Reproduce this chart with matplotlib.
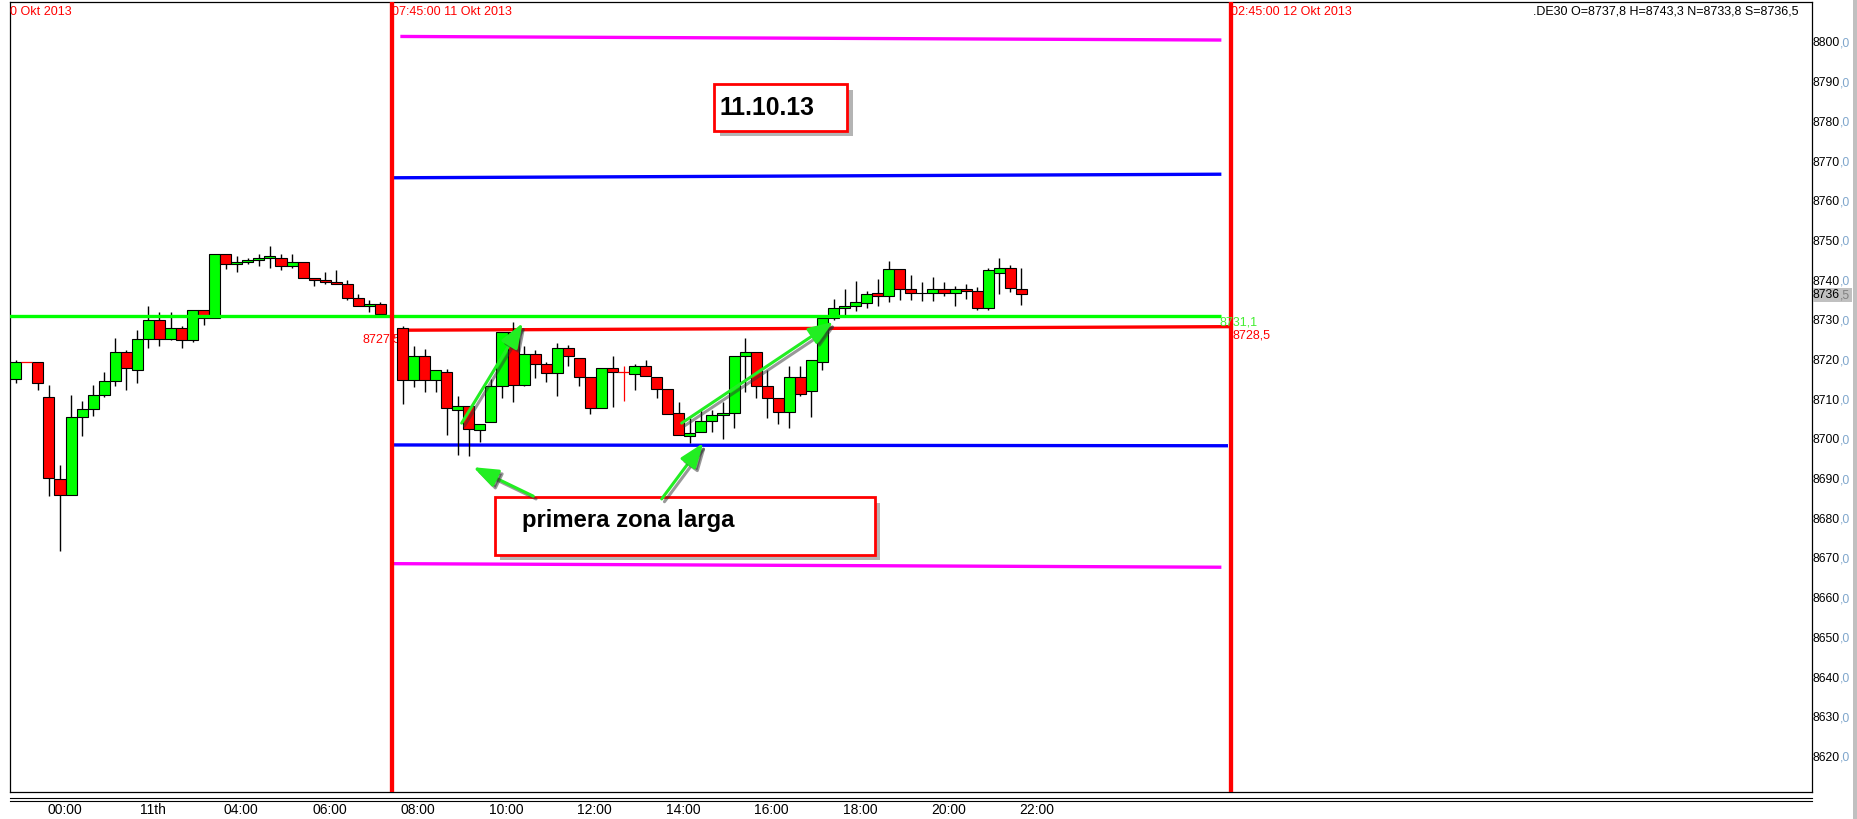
import numpy as np
import matplotlib
matplotlib.use("Agg")
import matplotlib.pyplot as plt
from matplotlib.patches import Rectangle, FancyArrowPatch
from matplotlib.lines import Line2D
import matplotlib.patheffects as pe

plt.rcParams["font.family"] = ["Liberation Sans", "DejaVu Sans"]

# ---------------------------------------------------------
# Data: 15 minute candles, slot = quarter hours since 00:00 of 11 Okt
# ---------------------------------------------------------
slots = list(range(-4, 30)) + list(range(31, 88))

opens = [
    8715.1, 8719.4, 8719.4, 8710.6, 8689.9, 8685.9, 8705.6, 8707.6, 8711.1, 8714.6,
    8721.9, 8717.4, 8725.4, 8730.0, 8725.4, 8728.0, 8725.0, 8732.5, 8730.5, 8746.6,
    8744.1, 8744.6, 8745.1, 8745.6, 8745.6, 8743.6, 8744.6, 8740.6, 8740.1, 8739.6,
    8739.1, 8735.5, 8733.5, 8734.0,
    8728.0, 8714.9, 8720.9, 8714.9, 8716.9, 8707.3, 8708.3, 8702.3, 8704.3, 8713.4,
    8727.0, 8713.6, 8721.4, 8718.9, 8716.7, 8722.9, 8720.4, 8715.6, 8707.8, 8717.9,
    8717.1, 8716.5, 8718.5, 8715.6, 8712.7, 8706.7, 8700.8, 8701.8, 8704.6, 8706.1,
    8706.6, 8720.9, 8721.9, 8713.4, 8710.4, 8706.9, 8715.6, 8712.2, 8719.4, 8730.5,
    8733.0, 8733.5, 8734.3, 8736.8, 8736.0, 8742.8, 8737.8, 8736.8, 8737.0, 8737.8,
    8737.0, 8737.8, 8737.3, 8733.0, 8741.9, 8743.1, 8737.8,
]
highs = [
    8720.0, 8719.4, 8719.4, 8713.7, 8693.6, 8711.2, 8709.6, 8713.7, 8716.9, 8725.5,
    8722.5, 8727.5, 8733.5, 8732.0, 8732.0, 8728.5, 8732.5, 8732.5, 8746.6, 8746.6,
    8746.1, 8745.6, 8746.6, 8748.6, 8746.6, 8746.6, 8744.6, 8740.6, 8742.1, 8742.6,
    8740.1, 8736.5, 8735.0, 8734.5,
    8728.5, 8723.6, 8722.8, 8717.4, 8717.8, 8710.9, 8708.3, 8704.0, 8715.2, 8727.0,
    8729.6, 8723.6, 8722.4, 8719.4, 8724.4, 8723.9, 8720.4, 8715.6, 8717.9, 8720.9,
    8718.4, 8719.0, 8719.9, 8715.6, 8712.7, 8709.4, 8705.3, 8707.3, 8707.3, 8709.4,
    8720.9, 8725.5, 8721.9, 8717.4, 8710.4, 8718.4, 8718.4, 8719.9, 8731.0, 8735.4,
    8737.9, 8739.9, 8737.4, 8740.4, 8744.9, 8742.8, 8741.4, 8739.6, 8740.8, 8739.6,
    8738.6, 8739.1, 8738.3, 8743.1, 8745.6, 8743.9, 8743.3,
]
lows = [
    8714.1, 8719.4, 8712.5, 8685.8, 8672.0, 8685.9, 8700.9, 8706.0, 8710.6, 8713.5,
    8712.5, 8714.1, 8723.0, 8723.5, 8725.0, 8723.0, 8724.5, 8728.9, 8730.5, 8742.9,
    8742.1, 8744.1, 8743.6, 8743.3, 8742.6, 8743.1, 8740.6, 8738.6, 8739.1, 8739.1,
    8735.0, 8733.5, 8732.0, 8731.5,
    8708.9, 8713.1, 8712.0, 8712.0, 8701.1, 8696.1, 8695.7, 8699.4, 8704.3, 8710.4,
    8709.4, 8713.4, 8715.4, 8714.4, 8710.9, 8718.4, 8713.4, 8706.3, 8707.8, 8708.1,
    8709.6, 8712.5, 8716.0, 8710.4, 8706.3, 8701.1, 8699.1, 8701.8, 8701.8, 8700.1,
    8702.9, 8711.9, 8710.4, 8705.3, 8703.9, 8702.9, 8710.9, 8705.6, 8717.6, 8730.0,
    8731.3, 8732.3, 8733.0, 8733.5, 8734.7, 8735.2, 8735.2, 8734.9, 8734.9, 8736.2,
    8733.5, 8735.3, 8732.7, 8732.7, 8736.5, 8737.1, 8733.8,
]
closes = [
    8719.4, 8719.4, 8714.1, 8690.4, 8685.9, 8705.6, 8707.6, 8711.1, 8714.6, 8721.9,
    8717.9, 8725.4, 8730.0, 8725.4, 8728.0, 8725.0, 8732.5, 8730.5, 8746.6, 8744.1,
    8744.6, 8745.1, 8745.6, 8746.1, 8743.6, 8744.6, 8740.6, 8740.1, 8739.6, 8739.1,
    8735.5, 8733.5, 8734.0, 8731.5,
    8714.9, 8720.9, 8714.9, 8717.4, 8707.8, 8708.3, 8702.6, 8704.0, 8713.4, 8727.0,
    8713.6, 8721.4, 8718.9, 8716.7, 8722.9, 8720.9, 8715.6, 8707.8, 8717.9, 8716.9,
    8717.1, 8718.5, 8716.0, 8712.7, 8706.3, 8701.1, 8701.6, 8704.6, 8706.1, 8706.6,
    8720.9, 8721.9, 8713.4, 8710.4, 8706.9, 8715.6, 8711.4, 8719.9, 8730.5, 8733.0,
    8733.5, 8734.5, 8736.5, 8736.0, 8742.8, 8737.8, 8736.8, 8737.0, 8737.8, 8737.0,
    8737.8, 8737.3, 8733.0, 8742.6, 8743.1, 8738.1, 8736.5,
]

# horizontal levels (start value, end value) and their slot spans
magenta_top = [8801.5, 8800.6]
magenta_bot = [8668.7, 8667.8]
blue_top = [8765.9, 8766.8]
blue_bot = [8698.6, 8698.4]
green_level = [8731.1, 8731.1]
red_level = [8727.5, 8728.4]
session_lines = [30.0, 106.0]

time_slots = [0, 8, 16, 24, 32, 40, 48, 56, 64, 72, 80, 88]
time_labels = ["00:00", "11th", "04:00", "06:00", "08:00", "10:00",
               "12:00", "14:00", "16:00", "18:00", "20:00", "22:00"]
price_ticks = list(range(8620, 8810, 10))

# ---------------------------------------------------------
# Figure / axes geometry (pixels)
# ---------------------------------------------------------
W, H = 1857, 820
AX_L, AX_R, AX_T, AX_B = 10, 1812, 3, 793

fig = plt.figure(figsize=(W / 100, H / 100), dpi=100)
fig.patch.set_facecolor("white")
ax = fig.add_axes([AX_L / W, 1 - AX_B / H, (AX_R - AX_L) / W, (AX_B - AX_T) / H])
ax.set_xlim(-4.525, 158.55)
ax.set_ylim(8611.18, 8810.18)
ax.set_xticks([])
ax.set_yticks([])
for sp in ax.spines.values():
    sp.set_linewidth(0.9)
    sp.set_color("black")


def ax_x(px):
    return (px - AX_L) / (AX_R - AX_L)


def ax_y(py):
    return (AX_B - py) / (AX_B - AX_T)


# ---------------------------------------------------------
# Levels
# ---------------------------------------------------------
def level(x0, x1, vals, color, z):
    ax.plot([x0, x1], vals, color=color, lw=2.4, solid_capstyle="butt", zorder=z)


level(30.8, 105.1, magenta_top, "#ff00ff", 2)
level(30.1, 105.1, magenta_bot, "#ff00ff", 2)
level(30.0, 105.1, blue_top, "#0000ff", 2)
level(30.1, 105.7, blue_bot, "#0000ff", 2)
level(30.5, 105.9, red_level, "#ff0000", 2)
level(-5.0, 105.1, green_level, "#00ff00", 6)

for sx in session_lines:
    ax.axvline(sx, color="#ff0000", lw=3.1, zorder=8)

# ---------------------------------------------------------
# Candles
# ---------------------------------------------------------
x = np.array(slots, dtype=float)
o = np.array(opens)
h = np.array(highs)
l = np.array(lows)
c = np.array(closes)
doji = o == c
body = ~doji

ax.vlines(x[body], l[body], h[body], color="black", lw=1.0, zorder=3)
cols = np.where(c > o, "#00ff00", "#ff0000")
ax.bar(x[body], (c - o)[body], bottom=o[body], width=1.0,
       color=cols[body], edgecolor="black", linewidth=0.8, zorder=4)
ax.vlines(x[doji], l[doji], h[doji], color="#ff0000", lw=0.9, zorder=4)
ax.hlines(o[doji], x[doji] - 0.5, x[doji] + 0.5, color="#ff0000", lw=0.9, zorder=4)

# level labels
ax.text(27.4, 8725.5, "8727,5", color="#ff0000", fontsize=9, va="center", zorder=3)
ax.text(104.97, 8729.6, "8731,1", color="#44ee33", fontsize=9, va="center", zorder=9)
ax.text(106.08, 8726.5, "8728,5", color="#ff0000", fontsize=9, va="center", zorder=9)

# ---------------------------------------------------------
# Header texts
# ---------------------------------------------------------
hy = ax_y(12)
ax.text(ax_x(10), hy, "0 Okt 2013", color="#ff0000", fontsize=9, va="center",
        transform=ax.transAxes)
ax.text(ax_x(392), hy, "07:45:00 11 Okt 2013", color="#ff0000", fontsize=9,
        va="center", transform=ax.transAxes, zorder=9)
ax.text(ax_x(1231), hy, "02:45:00 12 Okt 2013", color="#ff0000", fontsize=9,
        va="center", transform=ax.transAxes, zorder=9)
ax.text(ax_x(1799), hy, ".DE30 O=8737,8 H=8743,3 N=8733,8 S=8736,5", color="black",
        fontsize=9, va="center", ha="right", transform=ax.transAxes)

# ---------------------------------------------------------
# Annotation boxes and arrows
# ---------------------------------------------------------
shadow = [pe.SimplePatchShadow(offset=(4, -4), shadow_rgbFace="0.35", alpha=0.45), pe.Normal()]


def box(x0, y0, x1, y1):
    r = Rectangle((ax_x(x0), ax_y(y1)), ax_x(x1) - ax_x(x0), ax_y(y0) - ax_y(y1),
                  transform=ax.transAxes, facecolor="white", edgecolor="#ff0000",
                  lw=2.0, zorder=10, path_effects=shadow)
    ax.add_patch(r)


box(714.1, 85.4, 847.3, 131.9)
ax.text(ax_x(720), ax_y(115), "11.10.13", fontsize=17.8, fontweight="bold",
        va="baseline", transform=ax.transAxes, zorder=11)

box(494.7, 498.1, 874.6, 555.9)
ax.text(ax_x(522.3), ax_y(526.7), "primera zona larga", fontsize=17.2,
        fontweight="bold", va="baseline", transform=ax.transAxes, zorder=11)

arrows = [
    ((36.35, 8704.1), (41.87, 8729.3)),
    ((56.26, 8704.1), (69.98, 8729.6)),
    ((42.83, 8685.7), (37.40, 8693.0)),
    ((54.45, 8685.0), (58.22, 8699.1)),
]
for a, b in arrows:
    arr = FancyArrowPatch(a, b, arrowstyle="-|>,head_length=0.75,head_width=0.28",
                          mutation_scale=20, color="#22ee22", lw=2.2,
                          shrinkA=0, shrinkB=0, zorder=12,
                          path_effects=[pe.SimpleLineShadow(offset=(2, -2), shadow_color="0.2", alpha=0.5),
                                        pe.SimplePatchShadow(offset=(2, -2), shadow_rgbFace="0.2", alpha=0.5),
                                        pe.Normal()])
    ax.add_patch(arr)

# ---------------------------------------------------------
# Price axis (right)
# ---------------------------------------------------------
ytr = ax.get_yaxis_transform()
for v in price_ticks:
    t = ax.text(ax_x(1813), v, str(v), fontsize=8.7, color="black", va="center",
                ha="left", transform=ytr, clip_on=False)
    ax.annotate(",0", xy=(1, 0), xycoords=t, va="bottom", ha="left",
                fontsize=8.7, color="#7fa6cc")

ax.add_patch(Rectangle((ax_x(1812.7), ax_y(303.3)), ax_x(1851.7) - ax_x(1812.7),
                       ax_y(288.7) - ax_y(303.3), transform=ax.transAxes,
                       facecolor="#c0c0c0", edgecolor="none", clip_on=False, zorder=20))
t = ax.text(ax_x(1813), 8736.5, "8736", fontsize=8.7, color="black", va="center",
            ha="left", transform=ytr, clip_on=False, zorder=21)
ax.annotate(",5", xy=(1, 0), xycoords=t, va="bottom", ha="left",
            fontsize=8.7, color="#808080", zorder=21)

# ---------------------------------------------------------
# Time axis (bottom)
# ---------------------------------------------------------
xtr = ax.get_xaxis_transform()
for s, lab in zip(time_slots, time_labels):
    ax.text(s + 0.4, ax_y(810), lab, fontsize=10, ha="center", va="center",
            transform=xtr, clip_on=False)

for py in (799, 802):
    fig.add_artist(Line2D([AX_L / W, AX_R / W], [1 - py / H, 1 - py / H],
                          color="black", lw=0.8))

fig.add_artist(Rectangle((1853 / W, 0), 4 / W, 1, transform=fig.transFigure,
                         facecolor="#c0c0c0", edgecolor="none"))

fig.savefig("out.png", dpi=100)
